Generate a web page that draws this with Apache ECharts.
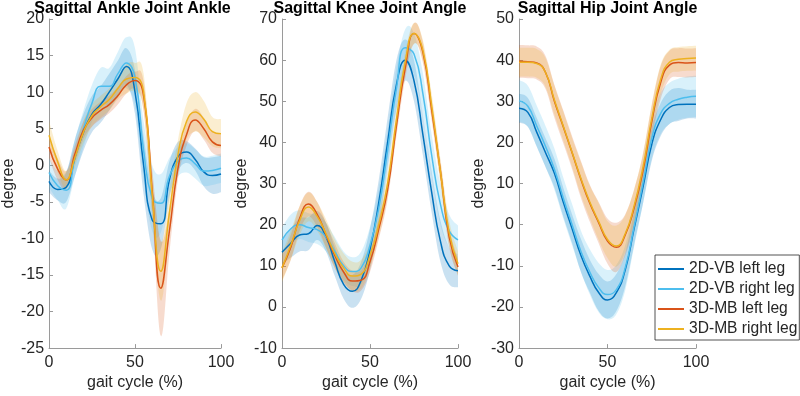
<!DOCTYPE html>
<html><head><meta charset="utf-8">
<script src="https://cdn.jsdelivr.net/npm/echarts@6/dist/echarts.min.js"></script>
<style>html,body{margin:0;padding:0;background:#fff}#c{width:800px;height:396px}</style>
</head><body><div id="c"></div>
<script>
// ---------- DATA ----------
const gaitPct = [0,5,10,15,20,25,30,35,40,45,50,55,60,65,70,75,80,85,90,95,100];
const seriesNames = ['2D-VB left leg','2D-VB right leg','3D-MB left leg','3D-MB right leg'];
const panelTitles = ['Sagittal Ankle Joint Ankle','Sagittal Knee Joint Angle','Sagittal Hip Joint Angle'];
const xTicks = [0, 50, 100];
const ankleTicks = [-25, 20, 5];   // min, max, step
const kneeTicks  = [-10, 70, 10];
const hipTicks   = [-30, 50, 10];

// Ankle means
const ankleL2D = [-2.2,-3.3,-3.0,1.0,4.5,7.0,8.3,10.0,11.8,13.5,10.0,0.0,-7.5,-8.0,-2.0,1.2,1.8,0.8,-0.9,-1.4,-1.2];
const ankleR2D = [-1.0,-2.8,-3.4,1.0,5.0,8.5,10.8,10.8,12.5,14.0,12.0,2.0,-4.5,-5.2,-1.5,0.5,1.0,0.2,-0.8,-0.7,-0.4];
const ankleL3D = [2.5,-0.5,-2.0,1.5,4.8,6.5,7.5,8.3,9.5,11.0,11.6,9.5,-3.5,-16.8,-9.0,-0.4,4.2,6.2,5.0,3.2,2.7];
const ankleR3D = [4.1,0.5,-2.0,1.0,4.5,6.8,8.0,9.0,10.5,11.8,12.0,10.0,-4.0,-14.5,-6.5,1.5,6.0,7.3,6.3,4.6,4.3];
// Ankle SD
const ankleSdL2D = [1.5,1.5,2,2.5,2.5,2.5,2.5,2.5,2.5,2.5,3,4,4,3.5,2.5,2,1.5,1.5,2,2.5,2.5];
const ankleSdR2D = [2,2,2.5,2.5,2.5,2.5,2.5,2.5,3,3.5,4,4,4.5,4,2.5,2,2,2,2,2,2];
const ankleSdL3D = [1.5,1.5,1.2,1.2,1.2,1.2,1.2,1.2,1.2,1.2,1.2,2,3,6.5,3,1.5,1.5,1.5,1.5,1.5,1.5];
const ankleSdR3D = [2,1.5,1.2,1.2,1.5,1.5,1.5,1.5,1.5,2,2,2.5,3,4,3,2,2.5,2.7,2.5,2,2];

// Knee means
const kneeL2D = [13.3,15.5,17.5,17.8,19.8,17.0,11.0,5.5,3.8,6.5,14.0,25.5,40.0,54.0,60.0,55.0,42.0,28.0,16.0,10.0,8.8];
const kneeR2D = [16.3,19.0,20.0,19.3,18.8,17.0,13.5,10.0,8.6,9.5,15.0,24.0,38.0,53.0,63.0,61.5,52.0,37.0,25.0,18.5,16.3];
const kneeL3D = [9.5,14.5,21.5,25.0,22.5,17.5,12.5,8.5,6.3,6.5,11.0,19.0,28.5,44.0,58.0,66.5,62.0,48.0,33.0,17.0,9.7];
const kneeR3D = [9.5,15.0,21.0,24.3,22.0,17.8,13.0,9.5,7.5,8.0,12.5,20.0,30.0,45.5,59.5,66.5,62.5,49.0,33.0,18.0,10.5];
// Knee SD
const kneeSdL2D = [3,3.5,4,4,3.5,3.5,3.5,3.5,4,4.5,5,5.5,6,6,5,5,5,5,5,4.5,4];
const kneeSdR2D = [3,3.5,3.5,3.5,3.5,3.5,3.5,3.5,3.5,4,4.5,5,5,5,4.5,5,5,5,5,4,3.5];
const kneeSdL3D = [3,3,3,3,3,3,3,2.5,2.5,2.5,2.5,2.5,2.5,2.5,2.5,2.5,2.5,2.5,2.5,2.5,2];
const kneeSdR3D = [3.5,3.5,3.5,3.5,3.5,3.5,3.5,3.5,3.5,3.5,3,3,3,3,2.5,2.5,2.5,3,3,3,3];

// Hip means
const hipL2D = [28.3,27.3,22.5,17.5,12.5,5.5,-1.0,-7.5,-12.5,-16.5,-18.3,-16.5,-11.0,-1.0,9.0,19.5,25.5,28.5,29.2,29.3,29.3];
const hipR2D = [30.1,28.8,24.0,19.0,13.5,6.5,0.0,-6.5,-11.5,-15.3,-17.0,-15.8,-10.5,-0.5,10.0,21.0,27.0,29.5,30.5,31.0,31.2];
const hipL3D = [39.7,39.6,39.3,37.0,30.0,23.8,17.5,11.0,5.2,0.5,-4.0,-5.5,-2.5,4.0,13.0,25.0,34.5,38.8,39.4,39.3,39.4];
const hipR3D = [39.5,39.5,39.2,37.0,30.3,24.0,17.6,11.2,5.5,0.8,-3.6,-5.2,-2.2,4.5,13.8,25.8,35.3,39.5,40.2,40.4,40.5];
// Hip SD
const hipSdL2D = [3.5,3.5,3.5,3.5,3.5,3.5,3.5,4,4,4.5,4.5,4.5,4,4,4,4,4,4,4,3.5,3.5];
const hipSdR2D = [5,5,5,5,5,5,5,5,5.5,6,6,6,5.5,5,5,5,5,5,5,5,5];
const hipSdL3D = [4,4,4,4,4,4,4,4.5,4.5,5,5.5,6,5,4.5,4,4,4,3.5,3.5,3.5,3.5];
const hipSdR3D = [3.5,3.5,3.5,3.5,3.5,3.5,3.5,4,4,4.5,4.5,5,4.5,4,3.5,3.5,3.5,3,3,3,3];

// ---------- BUILD ----------
const lineColors = ['#0072BD','#4DBEEE','#D95319','#EDB120'];
const panels = [
  {ticks: ankleTicks, means:[ankleL2D,ankleR2D,ankleL3D,ankleR3D], sds:[ankleSdL2D,ankleSdR2D,ankleSdL3D,ankleSdR3D]},
  {ticks: kneeTicks,  means:[kneeL2D,kneeR2D,kneeL3D,kneeR3D],     sds:[kneeSdL2D,kneeSdR2D,kneeSdL3D,kneeSdR3D]},
  {ticks: hipTicks,   means:[hipL2D,hipR2D,hipL3D,hipR3D],         sds:[hipSdL2D,hipSdR2D,hipSdL3D,hipSdR3D]}
];
const gridBoxes = [
  {left:44, width:177},
  {left:282, width:176},
  {left:519, width:177}
];
const font = 'Liberation Sans, Arial, sans-serif';
const axisGray = '#9a9a9a';
const textCol = '#262626';

// Catmull-Rom style smooth path through pixel points
function curvePath(pts, startCmd) {
  let d = startCmd + pts[0][0] + ' ' + pts[0][1];
  for (let i = 0; i < pts.length - 1; i++) {
    const p0 = pts[Math.max(i - 1, 0)], p1 = pts[i], p2 = pts[i + 1], p3 = pts[Math.min(i + 2, pts.length - 1)];
    const t = 0.18;
    const c1 = [p1[0] + (p2[0] - p0[0]) * t, p1[1] + (p2[1] - p0[1]) * t];
    const c2 = [p2[0] - (p3[0] - p1[0]) * t, p2[1] - (p3[1] - p1[1]) * t];
    d += ' C' + c1[0] + ' ' + c1[1] + ' ' + c2[0] + ' ' + c2[1] + ' ' + p2[0] + ' ' + p2[1];
  }
  return d;
}

const grids = [], xAxes = [], yAxes = [], series = [], titles = [];
panels.forEach((p, gi) => {
  const gb = gridBoxes[gi];
  grids.push({left: gb.left, width: gb.width, top: 19, height: 333, containLabel: false});
  titles.push({text: panelTitles[gi], left: gb.left + gb.width/2, top: 1, textAlign: 'center', padding: 0,
    textStyle: {fontFamily: font, fontSize: 16, fontWeight: 'bold', color: '#000'}});
  xAxes.push({type:'value', gridIndex: gi, min: xTicks[0], max: xTicks[2], interval: xTicks[1]-xTicks[0],
    name: 'gait cycle (%)', nameLocation: 'middle', nameGap: 26,
    nameTextStyle: {fontFamily: font, fontSize: 16, color: textCol},
    axisLine: {show: true, onZero: false, lineStyle: {color: axisGray, width: 1}},
    axisTick: {show: true, inside: true, length: 4, lineStyle: {color: axisGray}},
    axisLabel: {fontFamily: font, fontSize: 16, color: textCol, margin: 6},
    splitLine: {show: false}});
  yAxes.push({type:'value', gridIndex: gi, min: p.ticks[0], max: p.ticks[1], interval: p.ticks[2],
    name: 'degree', nameLocation: 'middle', nameGap: 29, nameRotate: 90,
    nameTextStyle: {fontFamily: font, fontSize: 16, color: textCol},
    axisLine: {show: true, onZero: false, lineStyle: {color: axisGray, width: 1}},
    axisTick: {show: true, inside: true, length: 4, lineStyle: {color: axisGray}},
    axisLabel: {fontFamily: font, fontSize: 16, color: textCol, margin: 5},
    splitLine: {show: false}});
  // SD bands (custom polygons through the axis scales)
  p.means.forEach((m, si) => {
    const sd = p.sds[si];
    series.push({type:'custom', name:'sd' + si, xAxisIndex: gi, yAxisIndex: gi, silent: true, z: 1,
      clip: true,
      data: gaitPct.map((x, k) => [x, m[k] - sd[k], m[k] + sd[k]]),
      encode: {x: 0, y: [1, 2]},
      renderItem: function (params, api) {
        if (params.dataIndex !== 0) return null;
        const up = gaitPct.map((x, k) => api.coord([x, m[k] + sd[k]]));
        const lo = gaitPct.map((x, k) => api.coord([x, m[k] - sd[k]])).reverse();
        let d = curvePath(up, 'M');
        d += ' L' + lo[0][0] + ' ' + lo[0][1];
        d += curvePath(lo, ' L').replace(/^ L[^C]*/, '');
        d += ' Z';
        const cs = params.coordSys;
        return {type:'path', shape:{pathData: d}, style:{fill: lineColors[si], opacity: 0.21},
          clipPath: {type:'rect', shape:{x: cs.x, y: cs.y, width: cs.width, height: cs.height}}};
      }});
  });
  // mean lines
  p.means.forEach((m, si) => {
    series.push({type:'line', name: seriesNames[si], xAxisIndex: gi, yAxisIndex: gi,
      data: gaitPct.map((x, k) => [x, m[k]]), smooth: true, symbol: 'none',
      lineStyle: {color: lineColors[si], width: 1.5}, itemStyle: {color: lineColors[si]}, z: 3});
  });
});

const chart = echarts.init(document.getElementById('c'), null, {renderer: 'canvas'});
chart.setOption({
  animation: false,
  backgroundColor: '#fff',
  title: titles,
  grid: grids,
  xAxis: xAxes,
  yAxis: yAxes,
  legend: {
    data: seriesNames, orient: 'vertical', left: 655, top: 255,
    icon: 'rect', itemWidth: 26, itemHeight: 2, itemGap: 4, itemTextGap: 2,
    padding: [6, 2, 3, 3], backgroundColor: '#fff', borderColor: '#262626', borderWidth: 0.8, borderRadius: 0,
    textStyle: {fontFamily: font, fontSize: 15.6, color: textCol, lineHeight: 16}
  },
  series: series
});
</script></body></html>
